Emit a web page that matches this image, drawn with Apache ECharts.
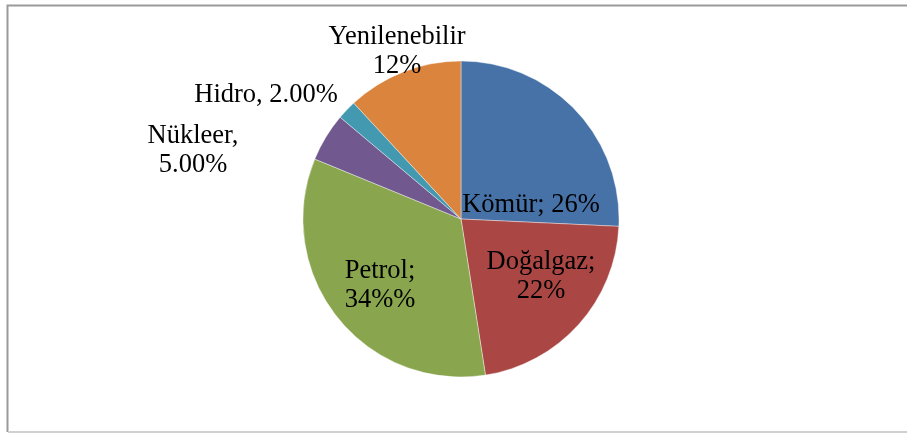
<!DOCTYPE html>
<html>
<head>
<meta charset="utf-8">
<script src="https://cdn.jsdelivr.net/npm/echarts@6/dist/echarts.min.js"></script>
<style>
html,body{margin:0;padding:0;background:#fff;}
#chart{width:907px;height:433px;}
</style>
</head>
<body>
<div id="chart"></div>
<script>
// kaynak dagilimi
var names = ['Kömür', 'Doğalgaz', 'Petrol', 'Nükleer', 'Hidro', 'Yenilenebilir'];
var values = [26, 22, 34, 5, 2, 12];
var labelTexts = ['Kömür; 26%', 'Doğalgaz;\n22%', 'Petrol;\n34%%', 'Nükleer,\n5.00%', 'Hidro, 2.00%', 'Yenilenebilir\n12%'];
var colors = ['#4672A8', '#AA4744', '#89A54E', '#71598F', '#4299B0', '#DB843D'];

// etiket merkezleri (piksel)
var labelPos = [[531, 205], [541, 277], [380, 286], [193, 151], [266, 95], [397, 52]];

var chart = echarts.init(document.getElementById('chart'));

var pieData = [];
for (var i = 0; i < names.length; i++) {
	pieData.push({
		name: names[i],
		value: values[i],
		itemStyle: { color: colors[i] }
	});
}

chart.setOption({
	animation: false,
	graphic: [
		{ type: 'polyline', shape: { points: [[7.5, 432], [7.5, 5.5], [907, 5.5]] }, style: { stroke: '#9a9a9a', lineWidth: 2, fill: null } },
		{ type: 'line', shape: { x1: 8, y1: 432, x2: 907, y2: 432 }, style: { stroke: '#d0d0d0', lineWidth: 2 } }
	],
	series: [{
		type: 'pie',
		center: [461, 219],
		radius: 158,
		startAngle: 90,
		clockwise: true,
		data: pieData,
		itemStyle: { borderColor: '#ffffff', borderWidth: 0.4 },
		label: {
			show: true,
			position: 'outside',
			formatter: function (p) { return labelTexts[p.dataIndex]; },
			fontFamily: '"Liberation Serif", "Times New Roman", serif',
			fontSize: 26.5,
			lineHeight: 29,
			color: '#000',
			align: 'center'
		},
		labelLine: { show: false },
		labelLayout: function (params) {
			var p = labelPos[params.dataIndex];
			return { x: p[0], y: p[1], align: 'center', verticalAlign: 'middle' };
		}
	}]
});
</script>
</body>
</html>
